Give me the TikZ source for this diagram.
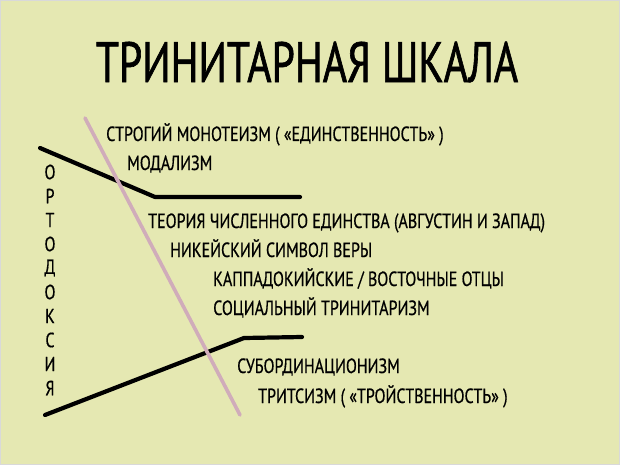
\documentclass[tikz,border=0pt]{standalone}
\usepackage{fontspec}
\setmainfont{PT Sans}[FakeStretch=0.78, FakeBold=0.6]
\newfontfamily\titlefont{PT Sans}[FakeStretch=0.73, FakeBold=1.1]
\definecolor{pad}{RGB}{229,232,178}
\definecolor{mauve}{RGB}{208,172,186}

\begin{document}
\begin{tikzpicture}[x=1pt, y=-1pt,
  item/.style={anchor=base west, inner sep=0pt, font=\fontsize{20.5}{20}\selectfont},
  letter/.style={inner sep=0pt, font=\fontsize{20.5}{20}\selectfont},
  bound/.style={line width=4.2pt, line cap=round, line join=round}]
\fill[pad] (0,0) rectangle (620,465); %page
\draw[gray!30, line width=1pt] (0.5,0.5) rectangle (619.5,464.5); %frame

\node[inner sep=0pt, font=\titlefont\fontsize{57}{57}\selectfont] (title) at (307,62) {ТРИНИТАРНАЯ ШКАЛА};

\node[item] (strict) at (106,141) {СТРОГИЙ МОНОТЕИЗМ ( «ЕДИНСТВЕННОСТЬ» )};
\node[item] (modal) at (127,170) {МОДАЛИЗМ};
\node[item] (august) at (148,228) {ТЕОРИЯ ЧИСЛЕННОГО ЕДИНСТВА (АВГУСТИН И ЗАПАД)};
\node[item] (nicene) at (170,257) {НИКЕЙСКИЙ СИМВОЛ ВЕРЫ};
\node[item] (capp) at (213,286) {КАППАДОКИЙСКИЕ / ВОСТОЧНЫЕ ОТЦЫ};
\node[item] (social) at (213,315) {СОЦИАЛЬНЫЙ ТРИНИТАРИЗМ};
\node[item] (subord) at (237,373) {СУБОРДИНАЦИОНИЗМ};
\node[item] (trit) at (258,403) {ТРИТСИЗМ ( «ТРОЙСТВЕННОСТЬ» )};

\foreach \ch [count=\i] in {О,Р,Т,О,Д,О,К,С,И,Я}
  \node[letter] (orth\i) at (50,{148+24*\i}) {\ch}; %vertical word

\coordinate (up1) at (40,148);
\coordinate (up2) at (155,197);
\coordinate (up3) at (300,197);
\draw[bound] (up1) -- (up2) -- (up3); %upper bound

\coordinate (low1) at (45,415);
\coordinate (low2) at (244,338);
\coordinate (low3) at (302,337);
\draw[bound] (low1) -- (low2) -- (low3); %lower bound

\coordinate (cut1) at (85,118);
\coordinate (cut2) at (240,415);
\draw[mauve, line width=3.6pt, line cap=round] (cut1) -- (cut2); %diagonal
\end{tikzpicture}
\end{document}
